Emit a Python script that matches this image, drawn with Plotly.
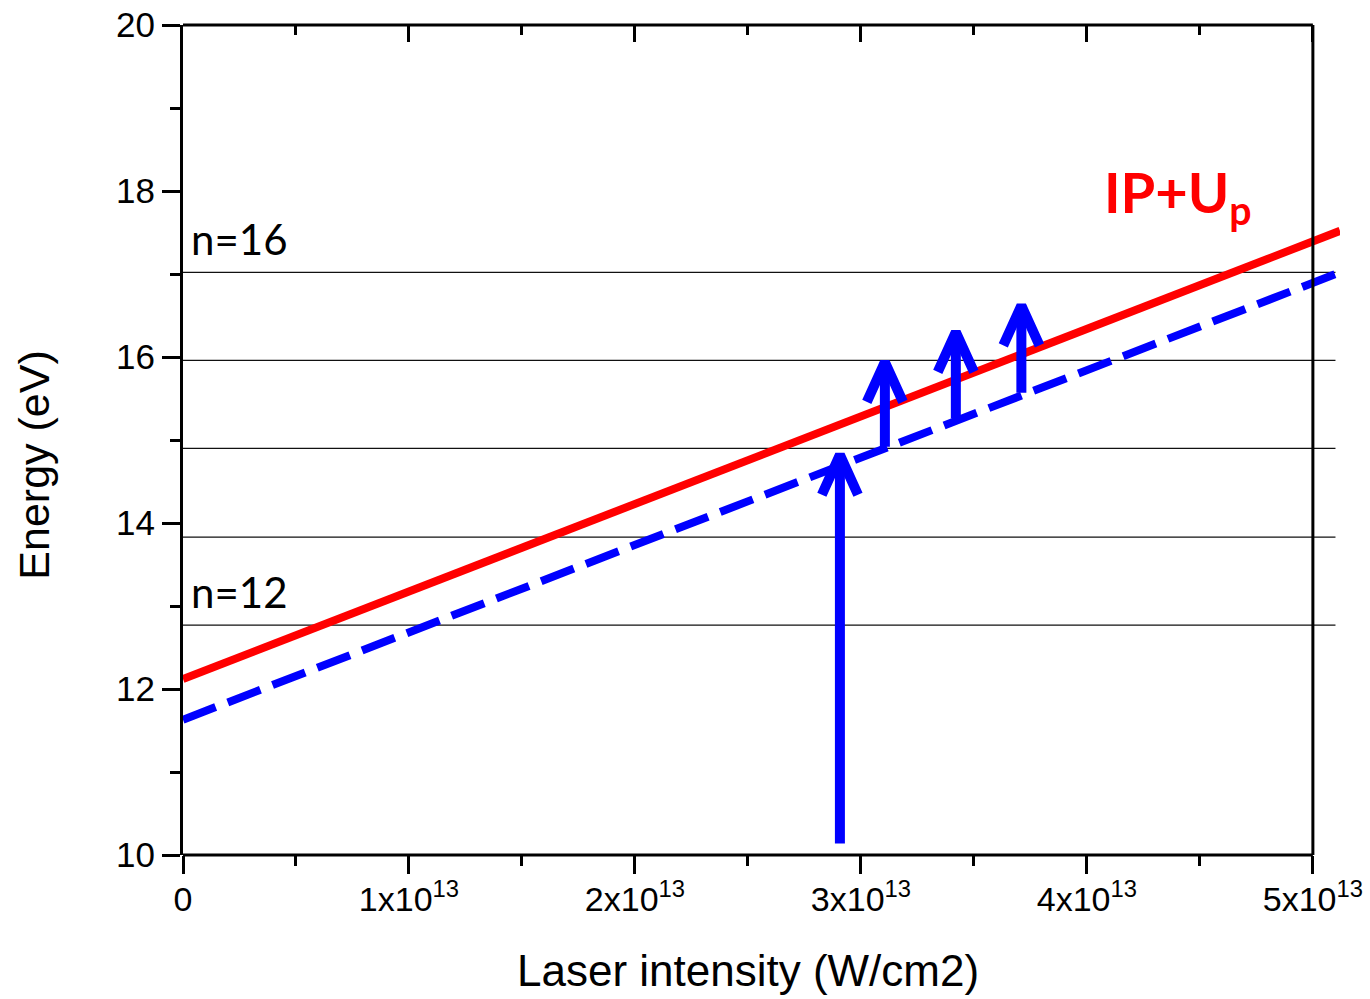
import plotly.graph_objects as go

# ---- data ----
intensity_end = [0, 5.12e13]          # W/cm2, lines run a little past the frame
ip_up = [12.12, 17.52]                # IP + Up (eV)
ip_up_shifted = [11.63, 17.02]        # dashed blue line (eV)

harmonic_energy = [12.77, 13.83, 14.90, 15.96, 17.02]
harmonic_x = [0, 5.1e13]
harmonic_labels = {"n=12": 12.77, "n=16": 17.02}

big_arrow_x = 2.907e13
big_arrow_from = 10.14
big_arrow_to = 14.82

step_x = [3.106e13, 3.42e13, 3.71e13]
step_from = [14.92, 15.26, 15.57]
step_to = [15.94, 16.30, 16.62]

x_ticks = [0, 1e13, 2e13, 3e13, 4e13, 5e13]
x_ticktext = ["0", "1x10<sup>13</sup>", "2x10<sup>13</sup>", "3x10<sup>13</sup>",
              "4x10<sup>13</sup>", "5x10<sup>13</sup>"]
y_ticks = [10, 12, 14, 16, 18, 20]
x_range = [0, 5.12e13]
y_range = [10, 20]

# ---- style ----
AX_FONT = "Liberation Sans, Arial, sans-serif"
TXT_FONT = "Lato, sans-serif"
BLUE = "#0000FF"
RED = "#FF0000"
head_dx = 0.08e13
head_dy = 0.48

fig = go.Figure()

# harmonic levels
hx, hy = [], []
for e in harmonic_energy:
    hx += [harmonic_x[0], harmonic_x[1], None]
    hy += [e, e, None]
fig.add_trace(go.Scatter(x=hx, y=hy, mode="lines",
                         line=dict(color="#111111", width=1.3),
                         hoverinfo="skip", showlegend=False))

fig.add_trace(go.Scatter(x=intensity_end, y=ip_up, mode="lines",
                         line=dict(color=RED, width=8), showlegend=False))
fig.add_trace(go.Scatter(x=intensity_end, y=ip_up_shifted, mode="lines",
                         line=dict(color=BLUE, width=8, dash="35px,13px"),
                         showlegend=False))

# arrows
ax_, ay_ = [], []
def add_arrow(x, y0, y1):
    ax_.extend([x, x, None, x - head_dx, x, x + head_dx, None])
    ay_.extend([y0, y1, None, y1 - head_dy, y1, y1 - head_dy, None])

add_arrow(big_arrow_x, big_arrow_from, big_arrow_to)
for x, a, b in zip(step_x, step_from, step_to):
    add_arrow(x, a, b)
fig.add_trace(go.Scatter(x=ax_, y=ay_, mode="lines",
                         line=dict(color=BLUE, width=10),
                         showlegend=False, hoverinfo="skip"))

# invisible trace for the top (mirror) axis
fig.add_trace(go.Scatter(x=[x_range[0]], y=[y_range[0]], xaxis="x2", mode="markers",
                         marker=dict(opacity=0), showlegend=False, hoverinfo="skip"))

xtickfont = dict(family=AX_FONT, size=34, color="black")
ytickfont = dict(family=AX_FONT, size=35, color="black")
fig.update_layout(
    width=1370, height=999,
    margin=dict(l=183, r=30, t=25, b=144, autoexpand=False),
    paper_bgcolor="white", plot_bgcolor="white",
    xaxis=dict(range=x_range, domain=[0, 1], showgrid=False, zeroline=False,
               showline=False, tickmode="array", tickvals=x_ticks, ticktext=x_ticktext,
               ticks="outside", ticklen=18, tickwidth=3, tickcolor="black",
               tickfont=xtickfont, ticklabelstandoff=-4, automargin=False,
               minor=dict(dtick=5e12, tick0=0, ticks="outside", ticklen=10,
                          tickwidth=3, tickcolor="black", showgrid=False)),
    xaxis2=dict(range=x_range, overlaying="x", side="top", anchor="y",
                showgrid=False, zeroline=False, showline=False, automargin=False,
                tickmode="array", tickvals=x_ticks, showticklabels=False,
                ticks="inside", ticklen=17, tickwidth=3, tickcolor="black",
                minor=dict(dtick=5e12, tick0=0, ticks="inside", ticklen=10,
                           tickwidth=3, tickcolor="black", showgrid=False)),
    yaxis=dict(range=y_range, showgrid=False, zeroline=False, automargin=False,
               showline=True, linewidth=3, linecolor="black",
               tickmode="array", tickvals=y_ticks,
               ticks="outside", ticklen=18, tickwidth=3, tickcolor="black",
               tickfont=ytickfont, ticklabelstandoff=0,
               minor=dict(dtick=1, tick0=10, ticks="outside", ticklen=10,
                          tickwidth=3, tickcolor="black", showgrid=False)),
)

# frame (bottom, top, right) ending at the last x tick
x_last = x_ticks[-1]
for y in (0, 1):
    fig.add_shape(type="line", xref="x", yref="paper", x0=x_ticks[0], x1=x_last,
                  y0=y, y1=y, line=dict(color="black", width=3))
fig.add_shape(type="line", xref="x", yref="paper", x0=x_last, x1=x_last,
              y0=0, y1=1, line=dict(color="black", width=3))

# axis titles
fig.add_annotation(text="Laser intensity (W/cm2)", xref="x", yref="paper",
                   x=(x_ticks[0] + x_last) / 2, y=-0.139, showarrow=False,
                   xanchor="center", yanchor="middle",
                   font=dict(family=AX_FONT, size=44, color="black"))
fig.add_annotation(text="Energy (eV)", xref="paper", yref="paper",
                   x=-0.129, y=0.47, showarrow=False, textangle=-90,
                   xanchor="center", yanchor="middle",
                   font=dict(family=AX_FONT, size=43, color="black"))

# harmonic labels
for label, e in harmonic_labels.items():
    fig.add_annotation(text=label, xref="x", yref="y", x=0, y=e,
                       showarrow=False, xanchor="left", yanchor="bottom",
                       xshift=6, yshift=6,
                       font=dict(family=TXT_FONT, size=42, color="black"))

fig.add_annotation(text="IP+U<sub>p</sub>", xref="x", yref="y", x=4.065e13, y=17.95,
                   showarrow=False, xanchor="left", yanchor="middle",
                   font=dict(family=TXT_FONT, size=56, color=RED, weight="bold"))

fig.write_html("out.html")
